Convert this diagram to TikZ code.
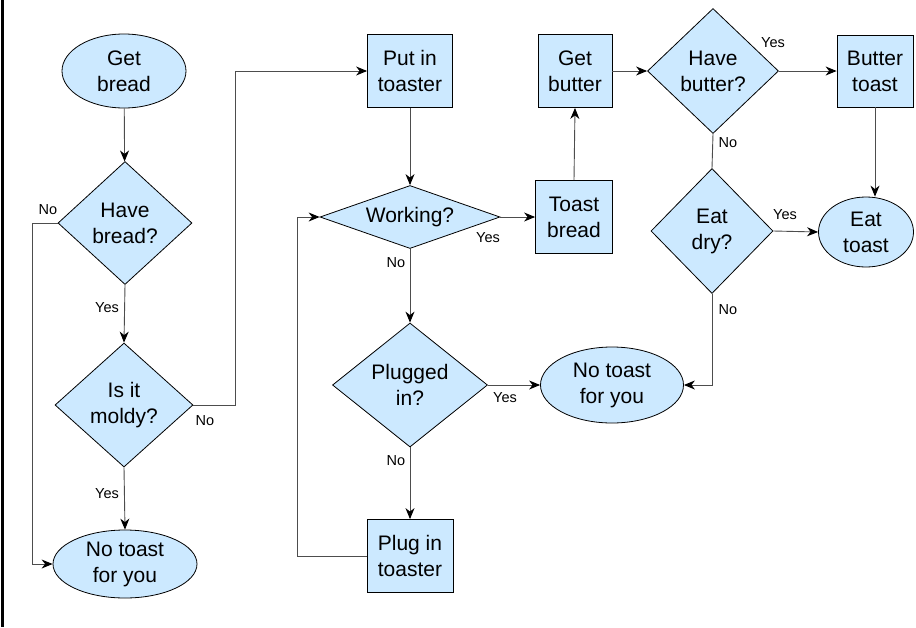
\documentclass[tikz,border=0pt]{standalone}
\usepackage{fontspec}
\setmainfont{Liberation Sans}
\definecolor{toastblue}{HTML}{CCE9FF}
\definecolor{wiregray}{HTML}{4D4D4D}
\usetikzlibrary{shapes.geometric, arrows.meta}

\tikzset{
  base/.style={draw=black, fill=toastblue, line width=0.8pt, align=center,
    inner sep=0pt, font=\fontsize{21}{26}\selectfont},
  stepbox/.style={base, rectangle},
  choice/.style={base, diamond},
  ends/.style={base, ellipse},
  wire/.style={draw=wiregray, line width=0.9pt},
  flow/.style={wire, -{Stealth[length=11pt, width=9pt, inset=3.5pt, color=black]}},
  answer/.style={inner sep=0pt, font=\fontsize{14.5}{16}\selectfont}
}

\begin{document}
\begin{tikzpicture}[x=1pt, y=-1pt]
  \useasboundingbox (0,0) rectangle (916,627);
  \draw[line width=3.5pt] (2.5,0) -- (2.5,627);

  % left column
  \node[ends, minimum width=124, minimum height=74] (getbread) at (124,71) {Get\\bread};
  \node[choice, minimum width=134, minimum height=123] (havebread) at (125,223) {Have\\bread?};
  \node[choice, minimum width=138, minimum height=124] (moldy) at (124,405) {Is it\\moldy?};
  \node[ends, minimum width=144, minimum height=68] (notoastA) at (125,564) {No toast\\for you};

  % toaster column
  \node[stepbox, minimum width=85, minimum height=73] (putin) at (410,71) {Put in\\toaster};
  \node[choice, aspect=2.85, minimum width=180, minimum height=63] (working) at (410,217) {Working?};
  \node[choice, minimum width=155, minimum height=124] (plugged) at (410,385) {Plugged\\in?};
  \node[stepbox, minimum width=86, minimum height=73] (plugin) at (410,556) {Plug in\\toaster};

  % butter side
  \node[stepbox, minimum width=77, minimum height=73] (toastbread) at (574,217) {Toast\\bread};
  \node[stepbox, minimum width=74, minimum height=73] (getbutter) at (575,71) {Get\\butter};
  \node[choice, minimum width=131, minimum height=125] (havebutter) at (713,71) {Have\\butter?};
  \node[stepbox, minimum width=76, minimum height=72] (buttertoast) at (875,71) {Butter\\toast};
  \node[choice, minimum width=122, minimum height=125] (eatdry) at (712,231) {Eat\\dry?};
  \node[ends, minimum width=95, minimum height=70] (eattoast) at (866,232) {Eat\\toast};
  \node[ends, minimum width=143, minimum height=76] (notoastB) at (612,385) {No toast\\for you};

  \draw[flow] (getbread) -- (havebread);
  \draw[flow] (havebread.south) -- (moldy.north);
  \draw[flow] (havebread.west) -- ++(-25,0) |- (notoastA.west);
  \draw[flow] (moldy.south) -- (notoastA.north);
  \draw[flow] (moldy.east) -- ++(42,0) |- (putin.west);
  \draw[flow] (putin) -- (working);
  \draw[flow] (working.east) -- (toastbread.west);
  \draw[flow] (working.south) -- (plugged.north);
  \draw[flow] (plugged.east) -- (notoastB.west);
  \draw[flow] (plugged.south) -- (plugin.north);
  \draw[flow] (plugin.west) -- ++(-69,0) |- (working.west);
  \draw[flow] (toastbread.north) -- (getbutter.south);
  \draw[flow] (getbutter.east) -- (havebutter.west);
  \draw[flow] (havebutter.east) -- (buttertoast.west);
  \draw[flow] (buttertoast.south) -- (buttertoast.south |- eattoast.north);
  \draw[wire] (havebutter.south) -- (eatdry.north);
  \draw[flow] (eatdry.east) -- (eattoast.west);
  \draw[flow] (eatdry.south) |- (notoastB.east);

  \node[answer] (nobread) at (48,210) {No};
  \node[answer] (yesbread) at (107,308) {Yes};
  \node[answer] (nomold) at (205,421) {No};
  \node[answer] (yesmold) at (107,494) {Yes};
  \node[answer] (yesworking) at (488,238) {Yes};
  \node[answer] (noworking) at (396,263) {No};
  \node[answer] (yesplugged) at (505,398) {Yes};
  \node[answer] (noplugged) at (396,461) {No};
  \node[answer] (yesbutter) at (773,43) {Yes};
  \node[answer] (nobutter) at (728,143) {No};
  \node[answer] (yesdry) at (785,215) {Yes};
  \node[answer] (nodry) at (728,310) {No};
\end{tikzpicture}
\end{document}
